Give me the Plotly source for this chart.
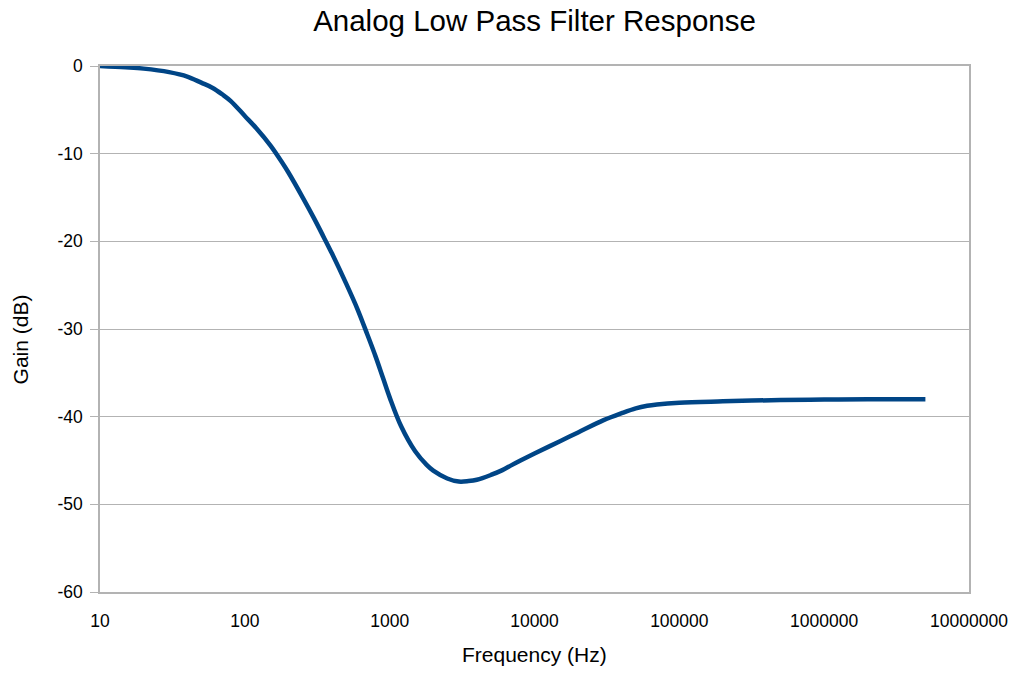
import plotly.graph_objects as go

freq_hz = [10, 15, 20, 30, 40, 50, 60, 70, 80, 100, 120, 150, 180, 200, 250, 300, 350,
           400, 500, 600, 700, 800, 900, 1000, 1200, 1500, 1800, 2000, 2500, 3000, 3500,
           4000, 5000, 6000, 7000, 8000, 10000, 15000, 20000, 30000, 40000, 50000,
           60000, 70000, 100000, 200000, 500000, 1000000, 2000000, 5000000]
gain_db = [0, -0.15, -0.3, -0.7, -1.2, -1.9, -2.5, -3.25, -4.0, -5.7, -7.1, -9.05, -10.95,
           -12.15, -14.95, -17.35, -19.5, -21.4, -24.8, -27.75, -30.6, -33.15, -35.6,
           -37.8, -41.1, -43.95, -45.5, -46.15, -47.05, -47.4, -47.35, -47.2, -46.65,
           -46.1, -45.5, -45.0, -44.2, -42.8, -41.8, -40.4, -39.6, -39.05, -38.75, -38.6,
           -38.4, -38.25, -38.1, -38.05, -38.0, -38.0]

x_tickvals = [10, 100, 1000, 10000, 100000, 1000000, 10000000]
x_ticktext = ["10", "100", "1000", "10000", "100000", "1000000", "10000000"]
y_tickvals = [0, -10, -20, -30, -40, -50, -60]
y_ticktext = ["0", "-10", "-20", "-30", "-40", "-50", "-60"]

font = "Liberation Sans, Arial, sans-serif"
grid = "#b3b3b3"

fig = go.Figure()
fig.add_trace(go.Scatter(
    x=freq_hz, y=gain_db, mode="lines",
    line=dict(color="#004586", width=4.5, shape="spline", smoothing=1.0),
    showlegend=False,
))

fig.update_layout(
    width=1016, height=677,
    margin=dict(l=100, r=47, t=66, b=85),
    paper_bgcolor="white", plot_bgcolor="white",
    title=dict(text="Analog Low Pass Filter Response", x=0.5, xanchor="center",
               xref="paper", y=0.970, yanchor="middle",
               font=dict(family=font, size=29.5, color="black")),
    font=dict(family=font, color="black"),
    annotations=[
        dict(text="Frequency (Hz)", xref="paper", yref="paper", x=0.5, y=-0.118,
             xanchor="center", yanchor="middle", showarrow=False,
             font=dict(family=font, size=21, color="black")),
        dict(text="Gain (dB)", xref="paper", yref="paper", x=-0.091, y=0.48,
             xanchor="center", yanchor="middle", showarrow=False, textangle=-90,
             font=dict(family=font, size=21, color="black")),
    ],
)
fig.update_xaxes(
    type="log", range=[1, 7], automargin=False,
    tickvals=x_tickvals, ticktext=x_ticktext,
    tickfont=dict(size=17.5, color="black"),
    showgrid=False, zeroline=False,
    showline=True, linecolor=grid, linewidth=1.5, mirror=True,
    ticks="", ticklabelstandoff=12,
)
fig.update_yaxes(
    range=[-60, 0], automargin=False,
    tickvals=y_tickvals, ticktext=y_ticktext,
    tickfont=dict(size=17.5, color="black"),
    showgrid=True, gridcolor=grid, gridwidth=1, zeroline=False,
    showline=True, linecolor=grid, linewidth=1.5, mirror=True,
    ticks="outside", ticklen=8, tickcolor=grid, ticklabelstandoff=4,
)

fig.write_html("out.html",
               config={"displayModeBar": False},
               post_script="document.body.style.margin='0';document.body.style.padding='0';")
